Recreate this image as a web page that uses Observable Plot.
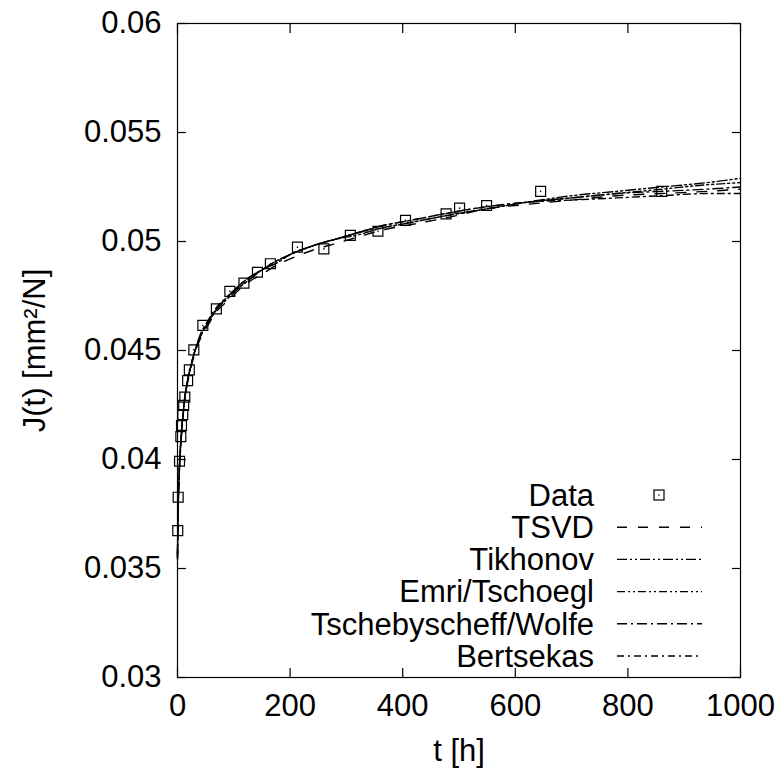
<!DOCTYPE html>
<html><head><meta charset="utf-8">
<script src="https://cdn.jsdelivr.net/npm/d3@7"></script>
<script src="https://cdn.jsdelivr.net/npm/@observablehq/plot@0.6"></script>
<style>
body{margin:0;background:#fff}
#chart{position:relative;width:776px;height:769px}
</style>
</head><body><div id="chart"></div>
<script>
// Measured data points (squares)
const tData = [0.5, 1.2, 3.6, 5.9, 7.1, 9.4, 11, 13, 18, 21, 29, 45, 69, 93, 118, 142, 165, 213, 260, 307, 356, 405, 477, 501, 549, 645, 860];
const JData = [0.03674, 0.03827, 0.03992, 0.04105, 0.04156, 0.04206, 0.04248, 0.04286, 0.04362, 0.04411, 0.04503, 0.04615, 0.04691, 0.04771, 0.04809, 0.04859, 0.04898, 0.04974, 0.04966, 0.05028, 0.05047, 0.05097, 0.05127, 0.05153, 0.05165, 0.0523, 0.0523];

// Fitted curves
const tCurve = [0, 1, 2, 4, 6, 8, 10, 13, 17, 22, 30, 40, 55, 70, 90, 110, 130, 150, 175, 200, 240, 280, 320, 360, 420, 480, 550, 620, 700, 780, 860, 940, 1000];
const J_TSVD      = [0.0356,0.0376,0.0387,0.0400,0.0409,0.0416,0.0421,0.0428,0.0434,0.0440,0.0448,0.0455,0.0462,0.0468,0.0473,0.0478,0.0482,0.0485,0.0489,0.0492,0.0496,0.0499,0.0502,0.0505,0.0508,0.0511,0.0515,0.0517,0.0519,0.0521,0.0522,0.0523,0.0524];
const J_Tikhonov  = [0.0355,0.0375,0.0386,0.0399,0.0408,0.0415,0.0421,0.0428,0.0435,0.0441,0.0449,0.0456,0.0463,0.0469,0.0474,0.0479,0.0483,0.0487,0.0490,0.0494,0.0498,0.0501,0.0504,0.0506,0.0509,0.0512,0.0515,0.0518,0.0521,0.0523,0.0525,0.0527,0.0529];
const J_Emri      = [0.0357,0.0377,0.0387,0.0400,0.0409,0.0416,0.0422,0.0429,0.0435,0.0441,0.0449,0.0456,0.0463,0.0469,0.0475,0.0479,0.0483,0.0487,0.0490,0.0494,0.0498,0.0501,0.0503,0.0506,0.0509,0.0512,0.0515,0.0518,0.0520,0.0522,0.0524,0.0526,0.0527];
const J_Tscheb    = [0.0354,0.0374,0.0385,0.0398,0.0407,0.0414,0.0420,0.0428,0.0435,0.0441,0.0449,0.0457,0.0464,0.0469,0.0475,0.0480,0.0484,0.0487,0.0491,0.0494,0.0498,0.0501,0.0504,0.0507,0.0510,0.0513,0.0516,0.0518,0.0520,0.0522,0.0523,0.0524,0.0525];
const J_Bertsekas = [0.0355,0.0375,0.0386,0.0399,0.0408,0.0415,0.0421,0.0428,0.0435,0.0441,0.0449,0.0456,0.0464,0.0470,0.0475,0.0480,0.0484,0.0487,0.0491,0.0494,0.0498,0.0501,0.0504,0.0507,0.0510,0.0513,0.0516,0.0518,0.0519,0.0520,0.0521,0.0522,0.0522];

const seriesNames = ["TSVD", "Tikhonov", "Emri/Tschoegl", "Tschebyscheff/Wolfe", "Bertsekas"];
const seriesValues = [J_TSVD, J_Tikhonov, J_Emri, J_Tscheb, J_Bertsekas];
const seriesDash = ["10,11", "10,3,2,3,2,3", "8,3,2,3,2,3", "10,4,2,4", "7,4,2,4"];

const xTicks = [0, 200, 400, 600, 800, 1000];
const yTicks = [0.03, 0.035, 0.04, 0.045, 0.05, 0.055, 0.06];
const xLabel = "t [h]";
const yLabel = "J(t) [mm²/N]";

const points = tData.map((t, i) => ({t, J: JData[i]}));
const curves = seriesNames.map((name, k) => tCurve.map((t, i) => ({name, t, J: seriesValues[k][i]})));

const FONT = "'Liberation Sans', Arial, Helvetica, sans-serif";
const FS = 31;
const TICK = 9;

const svg = Plot.plot({
  width: 776, height: 769,
  marginLeft: 177, marginRight: 36, marginTop: 23, marginBottom: 92,
  style: {fontFamily: FONT, fontSize: FS + "px", color: "black", background: "white", overflow: "visible"},
  x: {domain: [0, 1000]},
  y: {domain: [0.03, 0.06]},
  marks: [
    Plot.frame({stroke: "black", strokeWidth: 1.2}),
    // inward ticks on all four sides
    Plot.axisX({anchor: "bottom", ticks: xTicks, tickSize: TICK, dy: -TICK, tickFormat: () => "", label: null, strokeWidth: 1.2}),
    Plot.axisX({anchor: "top", ticks: xTicks, tickSize: TICK, dy: TICK, tickFormat: () => "", label: null, strokeWidth: 1.2}),
    Plot.axisY({anchor: "left", ticks: yTicks, tickSize: TICK, dx: TICK, tickFormat: () => "", label: null, strokeWidth: 1.2}),
    Plot.axisY({anchor: "right", ticks: yTicks, tickSize: TICK, dx: -TICK, tickFormat: () => "", label: null, strokeWidth: 1.2}),
    // tick labels and titles
    Plot.axisX({anchor: "bottom", ticks: xTicks, tickSize: 0, tickPadding: 16, tickFormat: d => String(d),
      label: xLabel, labelAnchor: "center", labelArrow: "none", labelOffset: 83, fontSize: FS}),
    Plot.axisY({anchor: "left", ticks: yTicks, tickSize: 0, tickPadding: 16, tickFormat: d => String(d),
      label: yLabel, labelAnchor: "center", labelArrow: "none", labelOffset: 155, fontSize: FS}),
    ...curves.map((data, k) => Plot.line(data, {x: "t", y: "J", stroke: "black", strokeWidth: 1.4,
      strokeDasharray: seriesDash[k], curve: "monotone-x"})),
    Plot.dot(points, {x: "t", y: "J", symbol: "square", r: 5.6, stroke: "black", strokeWidth: 1.2, fill: "none"}),
    Plot.dot(points, {x: "t", y: "J", r: 0.8, fill: "black", stroke: "none"})
  ]
});

// Legend inside the plot (gnuplot style, right-aligned text)
const g = d3.select(svg).append("g").attr("font-family", FONT).attr("font-size", FS);
const legendItems = ["Data", ...seriesNames];
const rowY = (i) => 495 + i * 32.2;
legendItems.forEach((name, i) => {
  const y = rowY(i);
  g.append("text").attr("x", 594).attr("y", y).attr("dy", "0.35em").attr("text-anchor", "end").text(name);
  if (i === 0) {
    g.append("rect").attr("x", 654).attr("y", y - 5).attr("width", 10).attr("height", 10)
      .attr("fill", "none").attr("stroke", "black").attr("stroke-width", 1.2);
    g.append("circle").attr("cx", 659).attr("cy", y).attr("r", 0.8).attr("fill", "black");
  } else {
    g.append("line").attr("x1", 617).attr("x2", 702).attr("y1", y).attr("y2", y)
      .attr("stroke", "black").attr("stroke-width", 1.4).attr("stroke-dasharray", seriesDash[i - 1]);
  }
});

document.getElementById("chart").appendChild(svg);
</script>
</body></html>
